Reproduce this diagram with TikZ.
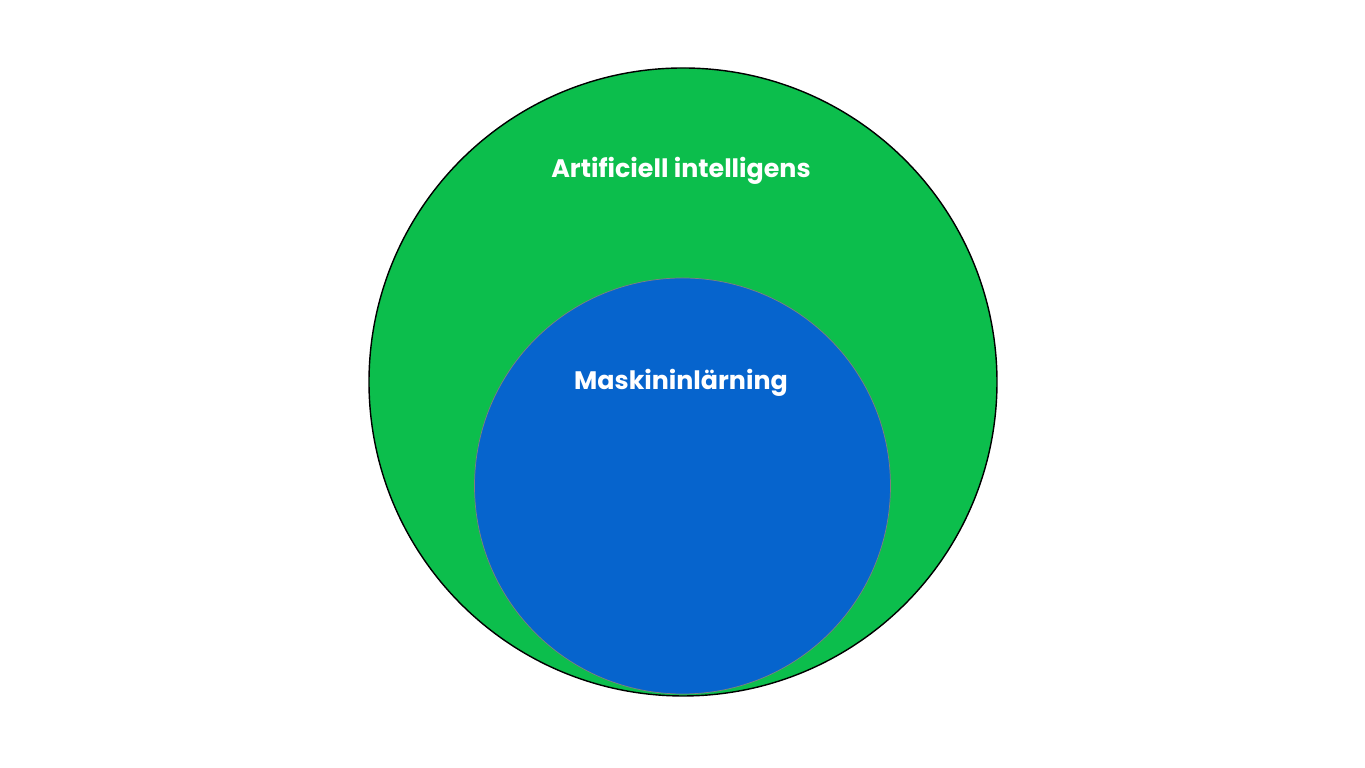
\documentclass[tikz,border=0pt]{standalone}
\usepackage{fontspec}
\setmainfont{Poppins}
\definecolor{aigreen}{RGB}{12,190,76}
\definecolor{mlblue}{RGB}{6,100,205}
\begin{document}
\begin{tikzpicture}[x=0.01cm, y=-0.01cm, label/.style={text=white, font=\bfseries\fontsize{7.2pt}{8pt}\selectfont}]
                \useasboundingbox (0, 0) rectangle (1365, 768);

                \draw[fill=aigreen, line width=0.4pt] (683, 382) circle[radius=314];

                \draw[fill=mlblue, draw=black!50, line width=0.2pt] (682.5, 486) circle[radius=208];

                \node[label] (ai) at (681, 171) {Artificiell intelligens};

                \node[label] (ml) at (681, 383) {Maskininlärning};
            \end{tikzpicture}
\end{document}
